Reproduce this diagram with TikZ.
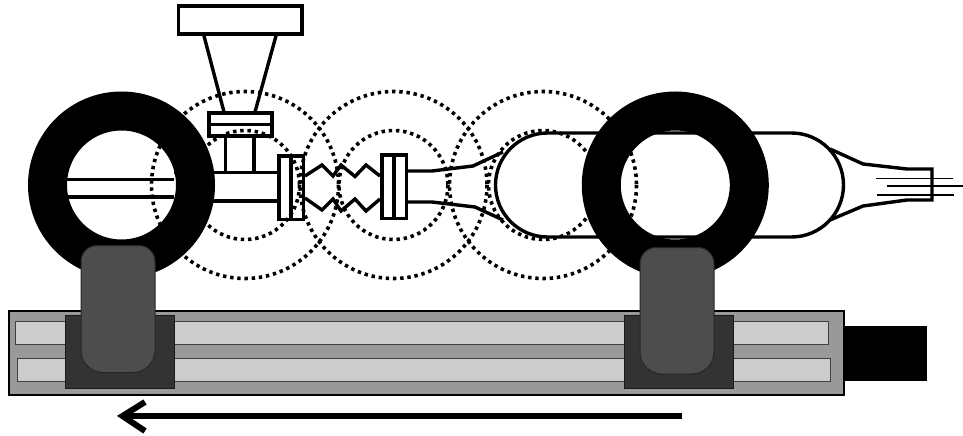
\documentclass[tikz,border=0pt]{standalone}
\definecolor{basegray}{HTML}{999999}
\definecolor{slotgray}{HTML}{CCCCCC}
\definecolor{carriagegray}{HTML}{333333}
\definecolor{clampgray}{HTML}{4D4D4D}
\tikzset{
  tube/.style={line width=3.4pt,black,line join=miter},
  field/.style={line width=3.6pt,black,dash pattern=on 3.4pt off 3.8pt},
  ringshape/.style={line width=39pt,black},
  slot/.style={fill=slotgray,draw=black!75,line width=1pt},
  carriage/.style={fill=carriagegray,draw=black!90,line width=1pt},
  clamp/.style={fill=clampgray,draw=black!85,line width=1pt},
  wire/.style={line width=1.6pt,black}
}
\begin{document}
\begin{tikzpicture}[x=1pt,y=-1pt]
\useasboundingbox (0,0) rectangle (963,436);
% rail
\draw[fill=basegray,draw=black,line width=2pt] (8.5,310.5) rectangle (843.5,395);
\draw[slot] (15.5,321.5) rectangle (828,344);
\draw[slot] (17.5,358.5) rectangle (830,381);
\fill[black] (845,326) rectangle (927,381);
% funnel
\draw[tube] (178.5,6) rectangle (302,34);
\draw[tube] (203.5,34) -- (224,112);
\draw[tube] (276.5,34) -- (255,112);
\draw[tube] (209,113) rectangle (272,136);
\draw[tube] (209,124.5) -- (272,124.5);
\draw[tube] (225.5,136) -- (225.5,172);
\draw[tube] (254,136) -- (254,172);
% inner tube
\draw[tube] (67,179.5) -- (174,179.5);
\draw[tube] (67,197) -- (174,197);
\draw[tube] (174,172.5) -- (279,172.5);
\draw[tube] (174,201) -- (279,201);
% flanges
\draw[tube,fill=white] (279,156) rectangle (303.5,219.5);
\draw[tube] (291,156) -- (291,219.5);
\draw[tube,fill=white] (382,155) rectangle (406.5,218.5);
\draw[tube] (394,155) -- (394,218.5);
% bellows
\draw[tube] (305,176) -- (322,165) -- (333,176) -- (341,165) -- (355,176.5) -- (366,165) -- (380,176);
\draw[tube] (305,198) -- (322,210) -- (333,199) -- (341,211) -- (355,199) -- (366,211) -- (380,199);
% transition
\draw[tube] (407,171) -- (432,171) -- (473,166) -- (503,152);
\draw[tube] (407,202) -- (432,202) -- (475,207) -- (503,220);
% chamber
\draw[tube,rounded corners=52pt] (495.5,133) rectangle (843.5,237);
% tail
\draw[tube] (830,149) -- (863,164) -- (907,169) -- (932,169) -- (932,200) -- (907,200) -- (863,206) -- (830,220);
\draw[wire] (876,178.5) -- (953,178.5);
\draw[wire] (887,186) -- (963,186);
\draw[wire] (877,195) -- (954,195);
% fields
\foreach \cx/\nm in {245/a,393.5/b,543/c}{
  \draw[field] (\cx,185) circle[radius=93.5];
  \draw[field] (\cx,185) circle[radius=54.5];
}
% rings
\draw[ringshape] (121.5,185) circle[radius=74];
\draw[ringshape] (675.3,185) circle[radius=74];
% carriages
\draw[carriage] (65,315.5) rectangle (174.5,388);
\draw[carriage] (624,315.5) rectangle (733.5,388);
\draw[clamp,rounded corners=16pt] (81,310) -- (81,245.5) -- (155,245.5) -- (155,310) [rounded corners=22pt] -- (155,372.5) -- (81,372.5) -- cycle;
\draw[clamp,rounded corners=16pt] (640,310) -- (640,247.5) -- (714,247.5) -- (714,310) [rounded corners=22pt] -- (714,374) -- (640,374) -- cycle;
% motion arrow
\draw[line width=6pt,black] (682,416) -- (124,416);
\draw[line width=6pt,black,miter limit=10] (145,402) -- (122.5,416) -- (145,431);
\end{tikzpicture}
\end{document}
